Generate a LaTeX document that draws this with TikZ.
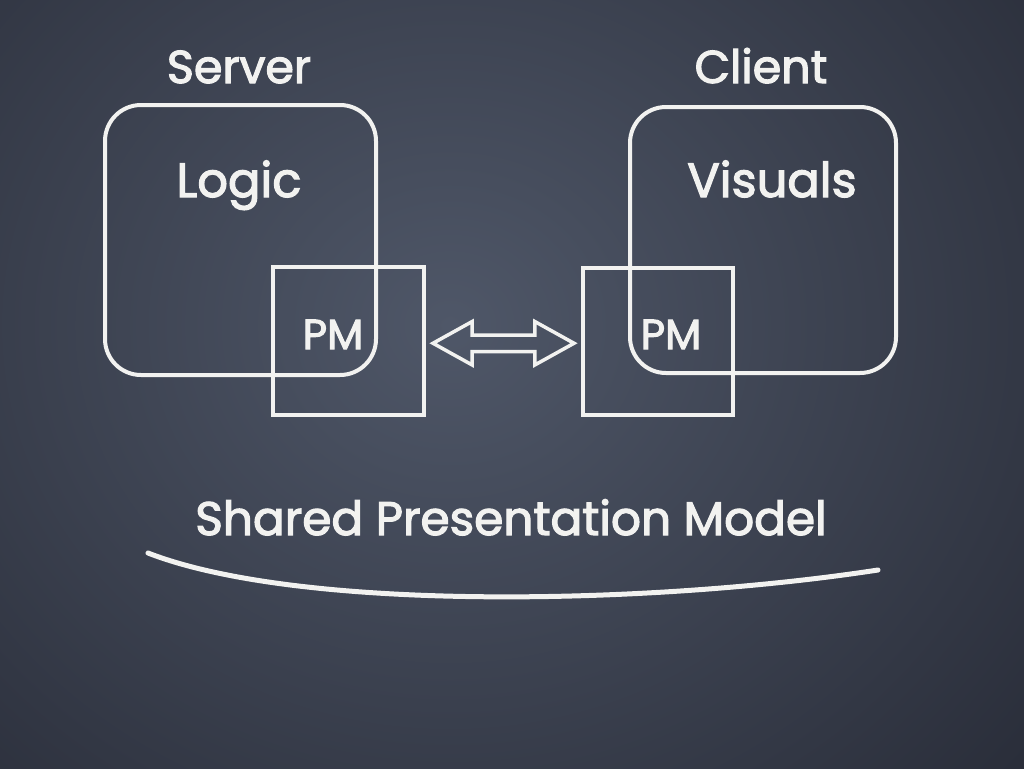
\documentclass[tikz,border=0pt]{standalone}
\usepackage{fontspec}
\setmainfont{Poppins}[FakeBold=2.5]
\usetikzlibrary{shapes.arrows,calc}
\definecolor{chalk}{HTML}{F2F2F0}
\definecolor{boardin}{HTML}{4F5768}
\definecolor{boardout}{HTML}{2A2E3A}
\begin{document}
\begin{tikzpicture}[x=1pt,y=-1pt,
  chalkline/.style={draw=chalk, line width=4pt},
  roundbox/.style={chalkline, rounded corners=36pt, inner sep=0pt, shape=rectangle},
  pmbox/.style={chalkline, inner sep=0pt, shape=rectangle},
  lbl/.style={text=chalk, anchor=base, inner sep=0pt},
  dblarrow/.style={chalkline, line width=3.5pt, shape=double arrow, inner sep=0pt, inner ysep=6.5pt,
    minimum height=141pt, double arrow head extend=13.5pt, double arrow tip angle=58}]
\useasboundingbox (0,0) rectangle (1024,768);
\begin{scope}
  \clip (0,0) rectangle (1024,768);
  \shade[inner color=boardin, outer color=boardout] (-300,-350) rectangle (1200,1000);
\end{scope}
% boxes
\node[roundbox, minimum width=271pt, minimum height=270pt] (server) at (240.5,240) {};
\node[roundbox, minimum width=266pt, minimum height=266pt] (client) at (763,240) {};
\node[pmbox, minimum width=151pt, minimum height=148pt] (spm) at (348.5,341) {};
\node[pmbox, minimum width=150pt, minimum height=147pt] (cpm) at (658,341.5) {};
% arrow
\node[dblarrow] (arr) at ($(spm.east)!0.5!(cpm.west)+(0,2)$) {};
% labels
\node[lbl, font=\fontsize{46}{50}\selectfont] (stitle) at (239,83) {Server};
\node[lbl, font=\fontsize{46}{50}\selectfont] (ctitle) at (761,83) {Client};
\node[lbl, font=\fontsize{48}{52}\selectfont] (logic) at (239,197) {Logic};
\node[lbl, font=\fontsize{48}{52}\selectfont] (visuals) at (772,197) {Visuals};
\node[lbl, font=\fontsize{42}{46}\selectfont] (spmt) at (333,349) {PM};
\node[lbl, font=\fontsize{42}{46}\selectfont] (cpmt) at (671,349) {PM};
\node[lbl, font=\fontsize{47}{51}\selectfont] (shared) at (511,535) {Shared Presentation Model};
% underline
\coordinate (ul1) at (148,553);
\coordinate (ul2) at (878,570);
\draw[draw=chalk, line width=5pt, line cap=round] (ul1) .. controls (300,612) and (650,605) .. (ul2);
\end{tikzpicture}
\end{document}
